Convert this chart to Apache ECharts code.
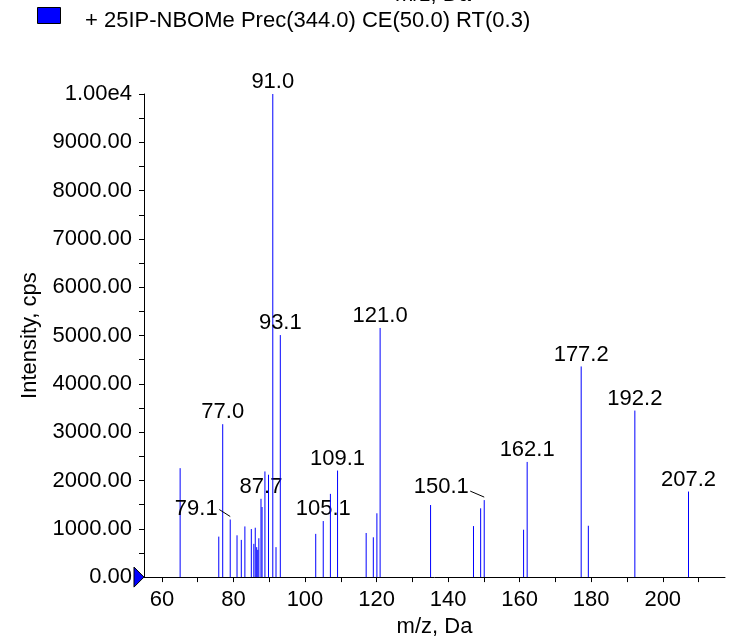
<!DOCTYPE html>
<html><head><meta charset="utf-8">
<script src="https://cdn.jsdelivr.net/npm/echarts@6/dist/echarts.min.js"></script>
<style>html,body{margin:0;padding:0;background:#fff}#c{width:735px;height:643px}</style>
</head><body><div id="c"></div>
<script>
// ---- data ----
const seriesName = '+ 25IP-NBOMe Prec(344.0) CE(50.0) RT(0.3)';
const xAxisTitle = 'm/z, Da';
const yAxisTitle = 'Intensity, cps';
const mzValues = [65.1, 75.9, 77.0, 79.1, 81.0, 82.2, 83.2, 85.0, 85.7, 86.1, 86.5, 86.8, 87.1, 87.7, 88.0, 88.8, 89.8, 91.0, 91.9, 93.1,
  103.0, 105.1, 107.1, 109.1, 117.1, 119.1, 120.1, 121.0, 135.1, 147.1, 149.1, 150.1, 161.1, 162.1, 177.2, 179.2, 192.2, 207.2];
const intensities = [2255, 838, 3165, 1192, 865, 770, 1049, 995, 688, 1022, 620, 565, 804, 1621, 1451, 2187, 2119, 10000, 620, 5010,
  895, 1160, 1723, 2205, 913, 824, 1321, 5157, 1492, 1056, 1424, 1594, 981, 2384, 4360, 1063, 3447, 1771];
const labeledPeaks = ['77.0', '79.1', '87.7', '91.0', '93.1', '105.1', '109.1', '121.0', '150.1', '162.1', '177.2', '192.2', '207.2'];
const xTickValues = [60, 70, 80, 90, 100, 110, 120, 130, 140, 150, 160, 170, 180, 190, 200, 210];
const xLabelValues = [60, 80, 100, 120, 140, 160, 180, 200];
const yTickValues = [0, 500, 1000, 1500, 2000, 2500, 3000, 3500, 4000, 4500, 5000, 5500, 6000, 6500, 7000, 7500, 8000, 8500, 9000, 9500, 10000];
const yLabelValues = [0, 1000, 2000, 3000, 4000, 5000, 6000, 7000, 8000, 9000, 10000];
const xMin = 55, xMax = 217.4, yMin = 0, yMax = 10000;

// ---- styles ----
const FONT = '"Liberation Sans", Arial, sans-serif';
const FS = 22;
const BLUE = '#0000ff';
// leader-line label placements (pixel offsets relative to the peak top)
const leaderLabels = {
  '79.1': {dx: -34, dy: -11, l1: [-11, -10], l2: [0, -3]},
  '150.1': {dx: -43, dy: -13, l1: [-14, -9], l2: [0, -3]}
};

const chart = echarts.init(document.getElementById('c'), null, {renderer: 'canvas'});
const data = mzValues.map((m, i) => [m, intensities[i]]);

function yLabel(v) {
  if (v >= 10000) return '1.00e4';
  return v.toFixed(2);
}

chart.setOption({
  animation: false,
  backgroundColor: '#fff',
  textStyle: {fontFamily: FONT},
  grid: {left: 144, right: 10, top: 94, bottom: 59, containLabel: false},
  graphic: [{
    type: 'text', x: 433, y: -5,
    style: {text: xAxisTitle, font: FS + 'px ' + FONT, fill: '#000', align: 'center', verticalAlign: 'middle'}
  }, {
    type: 'rect', shape: {x: 37.5, y: 7.5, width: 23, height: 16},
    style: {fill: BLUE, stroke: '#000', lineWidth: 1}
  }, {
    type: 'text', x: 85, y: 21,
    style: {text: seriesName, font: FS + 'px ' + FONT, fill: '#000', align: 'left', verticalAlign: 'middle'}
  }],
  xAxis: {
    type: 'value', min: xMin, max: xMax,
    name: xAxisTitle, nameLocation: 'middle', nameGap: 37,
    nameTextStyle: {fontFamily: FONT, fontSize: FS, color: '#000'},
    axisLine: {show: true, onZero: false, lineStyle: {color: '#000', width: 1}},
    axisTick: {show: true, length: 5, customValues: xTickValues, lineStyle: {color: '#000'}},
    axisLabel: {customValues: xLabelValues, fontFamily: FONT, fontSize: FS, color: '#000', margin: 12},
    splitLine: {show: false}
  },
  yAxis: {
    type: 'value', min: yMin, max: yMax,
    name: yAxisTitle, nameLocation: 'middle', nameGap: 103, nameRotate: 90,
    nameTextStyle: {fontFamily: FONT, fontSize: FS, color: '#000'},
    axisLine: {show: true, lineStyle: {color: '#000', width: 1}},
    axisTick: {show: true, length: 5, customValues: yTickValues, lineStyle: {color: '#000'}},
    axisLabel: {customValues: yLabelValues, formatter: yLabel, fontFamily: FONT, fontSize: FS, color: '#000', margin: 12},
    splitLine: {show: false}
  },
  series: [{
    name: seriesName,
    type: 'custom',
    itemStyle: {color: BLUE},
    clip: false,
    data: data,
    renderItem: function (params, api) {
      const m = api.value(0), v = api.value(1);
      const p0 = api.coord([m, 0]);
      const p1 = api.coord([m, v]);
      const x = p0[0];
      const children = [{
        type: 'line',
        shape: {x1: x, y1: p0[1], x2: x, y2: p1[1]},
        style: {stroke: BLUE, lineWidth: 1}
      }];
      const lbl = m.toFixed(1);
      if (labeledPeaks.indexOf(lbl) >= 0) {
        const ll = leaderLabels[lbl];
        if (ll) {
          children.push({
            type: 'text',
            style: {text: lbl, x: x + ll.dx, y: p1[1] + ll.dy, align: 'center', verticalAlign: 'middle', font: FS + 'px ' + FONT, fill: '#000'}
          });
          children.push({
            type: 'line',
            shape: {x1: x + ll.l1[0], y1: p1[1] + ll.l1[1], x2: x + ll.l2[0], y2: p1[1] + ll.l2[1]},
            style: {stroke: '#000', lineWidth: 1}
          });
        } else {
          children.push({
            type: 'text',
            style: {text: lbl, x: x, y: p1[1] - 1, align: 'center', verticalAlign: 'bottom', font: FS + 'px ' + FONT, fill: '#000'}
          });
        }
      }
      return {type: 'group', children: children};
    }
  }, {
    type: 'custom',
    silent: true,
    clip: false,
    data: [[xMin, 0]],
    renderItem: function (params, api) {
      const p = api.coord([api.value(0), api.value(1)]);
      return {
        type: 'polygon',
        shape: {points: [[p[0] - 10, p[1] - 10], [p[0], p[1]], [p[0] - 10, p[1] + 10]]},
        style: {fill: BLUE, stroke: '#000', lineWidth: 1}
      };
    }
  }]
});
</script>
</body></html>
